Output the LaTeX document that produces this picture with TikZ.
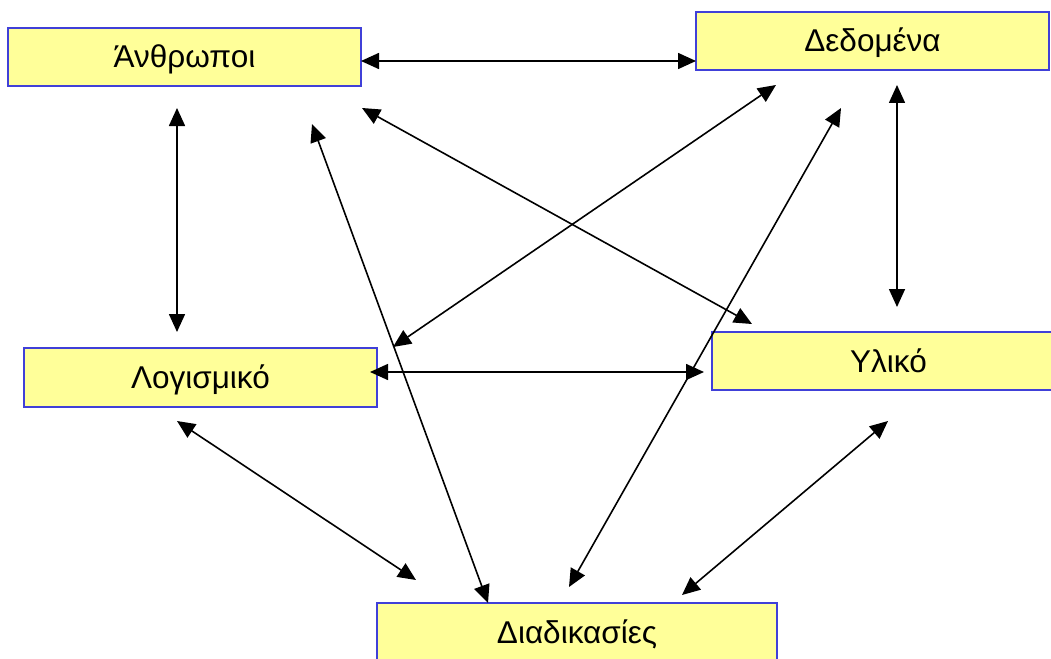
\documentclass[tikz,border=0pt]{standalone}
\usepackage{fontspec}
\setmainfont{Liberation Sans}
\usetikzlibrary{arrows.meta}
\definecolor{boxfill}{HTML}{FFFF99}
\definecolor{boxline}{HTML}{4040D8}
\begin{document}
\begin{tikzpicture}[x=1pt,y=-1pt,
  box/.style={draw=boxline,fill=boxfill,line width=1.5pt,minimum height=58pt,minimum width=353pt,inner sep=0pt,text height=22pt,text depth=0pt,font=\fontsize{31.5}{36}\selectfont},
  tip/.tip={Triangle[length=18pt,width=16pt]},
  link/.style={line width=1.6pt,tip-tip}]
\useasboundingbox (0,0) rectangle (1051,658);
\node[box] (anth) at (184.5,57) {Άνθρωποι};
\node[box] (ded) at (872.5,41) {Δεδομένα};
\node[box,minimum height=59pt] (log) at (200.5,377.5) {Λογισμικό};
\node[box] (yl) at (888.5,361) {Υλικό};
\node[box,minimum width=400pt] (diad) at (577,632) {Διαδικασίες};
% endpoints
\coordinate (p1a) at (361,61);  \coordinate (p1b) at (696,61);
\coordinate (p2a) at (177,108); \coordinate (p2b) at (177,332);
\coordinate (p3a) at (897,85);  \coordinate (p3b) at (897,307);
\coordinate (p4a) at (362,108); \coordinate (p4b) at (752,324);
\coordinate (p5a) at (776,85);  \coordinate (p5b) at (393,347);
\coordinate (p6a) at (312,124); \coordinate (p6b) at (488,603);
\coordinate (p7a) at (841,108); \coordinate (p7b) at (569,587);
\coordinate (p8a) at (370,372); \coordinate (p8b) at (704,372);
\coordinate (p9a) at (177,421); \coordinate (p9b) at (416,580);
\coordinate (p10a) at (888,421); \coordinate (p10b) at (682,595);
\draw[link] (p1a) -- (p1b);
\draw[link] (p2a) -- (p2b);
\draw[link] (p3a) -- (p3b);
\draw[link] (p4a) -- (p4b);
\draw[link] (p5a) -- (p5b);
\draw[link] (p6a) -- (p6b);
\draw[link] (p7a) -- (p7b);
\draw[link] (p8a) -- (p8b);
\draw[link] (p9a) -- (p9b);
\draw[link] (p10a) -- (p10b);
\end{tikzpicture}
\end{document}
